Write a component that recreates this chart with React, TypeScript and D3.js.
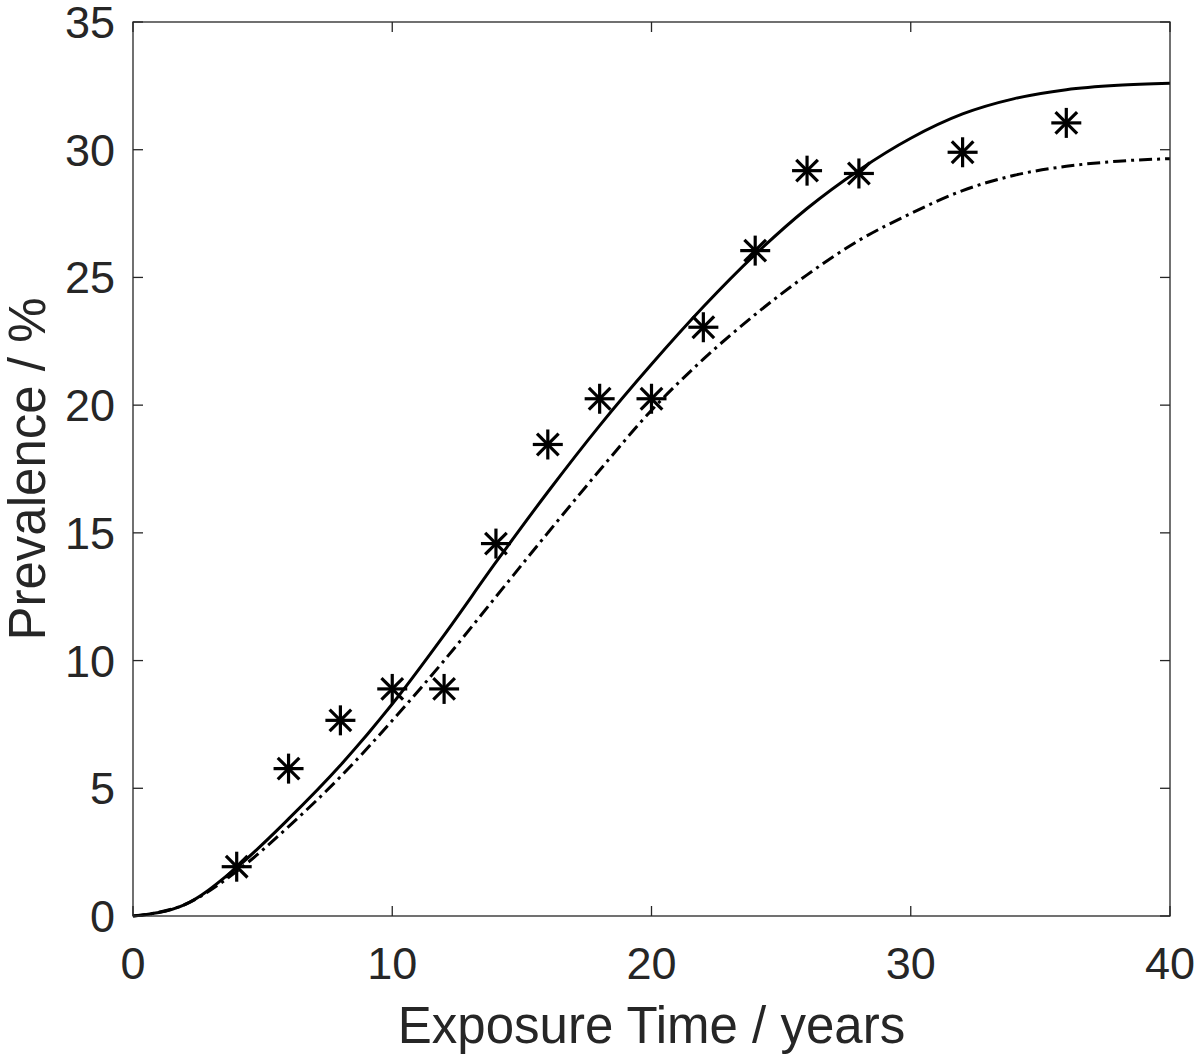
import React from "react";
import * as d3 from "d3";

// observed prevalence (stars)
const obsYears = [4, 6, 8, 10, 12, 14, 16, 18, 20, 22, 24, 26, 28, 32, 36];
const obsPrev = [1.93, 5.77, 7.66, 8.89, 8.89, 14.58, 18.46, 20.25, 20.25, 23.05, 26.05, 29.18, 29.07, 29.9, 31.05];

// model curves, every 2 years
const curveYears = [0, 2, 4, 6, 8, 10, 12, 14, 16, 18, 20, 22, 24, 26, 28, 30, 32, 34, 36, 38, 40];
const solidPrev = [0, 0.45, 1.9, 3.8, 5.9, 8.3, 11.0, 13.85, 16.6, 19.2, 21.6, 23.85, 25.9, 27.7, 29.2, 30.45, 31.4, 32.0, 32.35, 32.52, 32.6];
const dashDotPrev = [0, 0.45, 1.75, 3.5, 5.45, 7.65, 10.0, 12.5, 15.0, 17.45, 19.8, 21.8, 23.55, 25.1, 26.45, 27.5, 28.4, 29.0, 29.35, 29.55, 29.65];

const xTicks = [0, 10, 20, 30, 40];
const yTicks = [0, 5, 10, 15, 20, 25, 30, 35];

const W = 1200;
const H = 1057;
const left = 133;
const right = 1170;
const top = 22;
const bottom = 916;
const axisColor = "#262626";
const font = "'Liberation Sans', Arial, Helvetica, sans-serif";

export default function App() {
  const x = d3.scaleLinear().domain([0, 40]).range([left, right]);
  const y = d3.scaleLinear().domain([0, 35]).range([bottom, top]);

  const line = d3
    .line<number>()
    .x((_, i) => x(curveYears[i]))
    .y((d) => y(d))
    .curve(d3.curveMonotoneX);

  const star = (cx: number, cy: number, key: number) => {
    const r = 15;
    const d = r * 0.72;
    return (
      <g key={key} stroke="#000" strokeWidth={3.2} strokeLinecap="butt">
        <line x1={cx - r} y1={cy} x2={cx + r} y2={cy} />
        <line x1={cx} y1={cy - r} x2={cx} y2={cy + r} />
        <line x1={cx - d} y1={cy - d} x2={cx + d} y2={cy + d} />
        <line x1={cx - d} y1={cy + d} x2={cx + d} y2={cy - d} />
      </g>
    );
  };

  return (
    <svg
      width={W}
      height={H}
      style={{ position: "absolute", left: 0, top: 0, display: "block", background: "#fff" }}
    >
      <rect x={0} y={0} width={W} height={H} fill="#fff" />

      {/* curves */}
      <path d={line(solidPrev) ?? ""} fill="none" stroke="#000" strokeWidth={3} />
      <path
        d={line(dashDotPrev) ?? ""}
        fill="none"
        stroke="#000"
        strokeWidth={3}
        strokeDasharray="13 5 3 5"
      />

      {/* observations */}
      {obsYears.map((t, i) => star(x(t), y(obsPrev[i]), i))}

      {/* box */}
      <rect
        x={left}
        y={top}
        width={right - left}
        height={bottom - top}
        fill="none"
        stroke={axisColor}
        strokeWidth={1.3}
      />

      {/* x ticks */}
      {xTicks.map((t) => (
        <g key={"x" + t}>
          <line x1={x(t)} x2={x(t)} y1={bottom} y2={bottom - 10} stroke={axisColor} strokeWidth={1.3} />
          <line x1={x(t)} x2={x(t)} y1={top} y2={top + 10} stroke={axisColor} strokeWidth={1.3} />
          <text
            x={x(t)}
            y={979}
            textAnchor="middle"
            fontFamily={font}
            fontSize={45}
            fill={axisColor}
          >
            {t}
          </text>
        </g>
      ))}

      {/* y ticks */}
      {yTicks.map((t) => (
        <g key={"y" + t}>
          <line x1={left} x2={left + 10} y1={y(t)} y2={y(t)} stroke={axisColor} strokeWidth={1.3} />
          <line x1={right} x2={right - 10} y1={y(t)} y2={y(t)} stroke={axisColor} strokeWidth={1.3} />
          <text
            x={115}
            y={y(t) + 16}
            textAnchor="end"
            fontFamily={font}
            fontSize={45}
            fill={axisColor}
          >
            {t}
          </text>
        </g>
      ))}

      {/* axis labels */}
      <text
        x={(left + right) / 2}
        y={1043}
        textAnchor="middle"
        fontFamily={font}
        fontSize={51}
        fill={axisColor}
      >
        Exposure Time / years
      </text>
      <text
        transform={`translate(45,${(top + bottom) / 2}) rotate(-90)`}
        textAnchor="middle"
        fontFamily={font}
        fontSize={51}
        fill={axisColor}
      >
        Prevalence / %
      </text>
    </svg>
  );
}
